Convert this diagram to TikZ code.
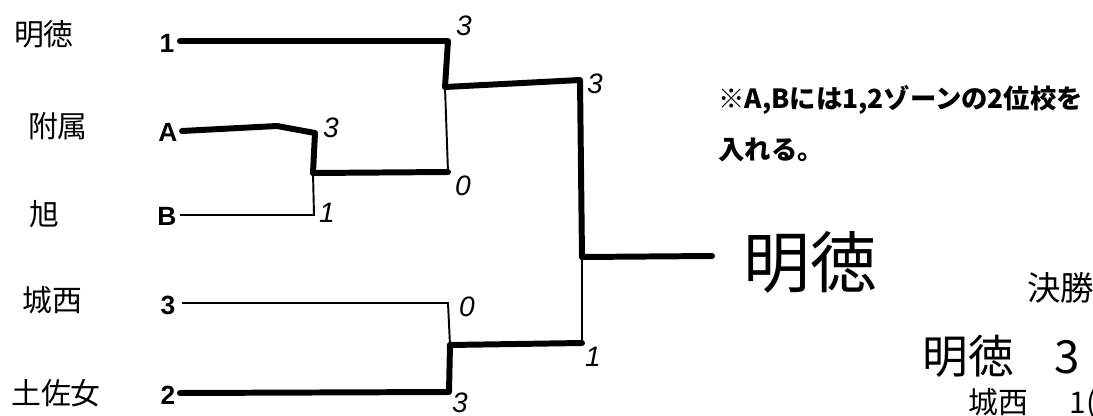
\documentclass[tikz,border=0pt]{standalone}
\usepackage{fontspec}
\setmainfont{Liberation Sans}
\newfontfamily\jp{Noto Sans CJK JP}
\begin{document}
\begin{tikzpicture}[x=0.02cm,y=-0.02cm,
    team/.style={font={\jp\fontsize{17}{19}\selectfont}},
    seed/.style={font={\bfseries\fontsize{15}{17}\selectfont}},
    score/.style={font={\itshape\fontsize{16}{18}\selectfont}},
    note/.style={anchor=west,inner sep=0pt,font={\jp\bfseries\fontsize{15}{18}\selectfont}},
    hand/.style={anchor=west,inner sep=0pt,font={\jp\fontsize{#1}{#1}\selectfont}},
    win/.style={line width=3.4pt,line cap=round,line join=round},
    lose/.style={line width=1.1pt}]
  \useasboundingbox (0,0) rectangle (1093,416);
  \clip (0,0) rectangle (1093,416);
  \draw
    (44,34) node[team] (meitoku){明徳}
    (58,126) node[team] (fuzoku){附属}
    (44,214) node[team] (asahi){旭}
    (52,300) node[team] (josei){城西}
    (56,393) node[team] (tosajo){土佐女}
    (167,43) node[seed] (n1){1}
    (168,132) node[seed] (nA){A}
    (167,216) node[seed] (nB){B}
    (168,305) node[seed] (n3){3}
    (168,395) node[seed] (n2){2}
    (464,26) node[score] (r1){3}
    (331,128) node[score] (rA){3}
    (327,213) node[score] (rB){1}
    (463,186) node[score] (rAB){0}
    (595,84) node[score] (r1AB){3}
    (467,307) node[score] (r3){0}
    (460,403) node[score] (r2){3}
    (593,357) node[score] (r23){1}
    (718,100) node[note] (note1){※A,Bには1,2ゾーンの2位校を}
    (718,150) node[note] (note2){入れる。}
    (743,262) node[hand=38] (champ){明徳}
    (1027,288) node[hand=19] (final){決勝}
    (922,356) node[hand=26] (final1){明徳\hspace{0.9em}3}
    (968,404) node[hand=17] (final2){城西\hspace{1.4em}1(};
  \draw
    (180,41) coordinate (s1)
    (448,41) coordinate (c1)
    (445,87) coordinate (j1)
    (182,131) coordinate (sA)
    (277,126) coordinate (wA)
    (315,133) coordinate (cA)
    (313,173) coordinate (jA)
    (180,215) coordinate (sB)
    (314,215) coordinate (cB)
    (448,172) coordinate (c2)
    (580,80) coordinate (c3)
    (582,257) coordinate (jF)
    (712,256) coordinate (eF)
    (182,303) coordinate (s3)
    (448,303) coordinate (c4)
    (450,345) coordinate (j2)
    (180,393) coordinate (s2)
    (449,392) coordinate (c5)
    (582,343) coordinate (c6);
  \begin{scope}[win]
    \draw (s1) to (c1) to (j1);
    \draw (sA) to (wA) to (cA) to (jA);
    \draw (jA) to (c2);
    \draw (j1) to (c3) to (jF);
    \draw (jF) to (eF);
    \draw (s2) to (c5) to (j2);
    \draw (j2) to (c6);
  \end{scope}
  \begin{scope}[lose]
    \draw (sB) to (cB) to (jA);
    \draw (c2) to (j1);
    \draw (s3) to (c4) to (j2);
    \draw (c6) to (jF);
  \end{scope}
\end{tikzpicture}
\end{document}
